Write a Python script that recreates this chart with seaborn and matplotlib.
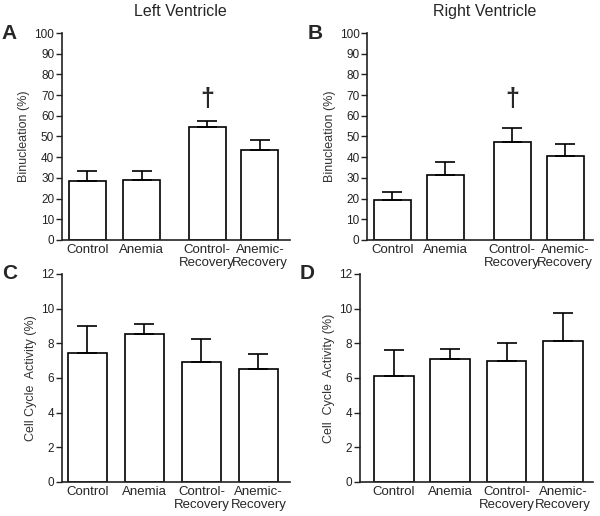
import pandas as pd
import matplotlib
matplotlib.use('Agg')
import matplotlib.pyplot as plt
import seaborn as sns

# dados ---------------------------------------------------------------------------------------------------------
groups = ['Control', 'Anemia', 'Control-\nRecovery', 'Anemic-\nRecovery']

lv_binuc = [28.3, 28.9, 54.7, 43.4]
lv_binuc_err = [5.1, 4.3, 2.6, 4.8]
rv_binuc = [19.2, 31.3, 47.4, 40.5]
rv_binuc_err = [4.0, 6.3, 6.6, 6.0]

lv_cycle = [7.42, 8.54, 6.90, 6.52]
lv_cycle_err = [1.60, 0.59, 1.35, 0.85]
rv_cycle = [6.10, 7.08, 7.00, 8.12]
rv_cycle_err = [1.52, 0.57, 1.00, 1.63]

pos_top = [0, 1, 2.2, 3.17]
pos_bottom = [0, 1, 2, 3]

sns.set_style('ticks')
plt.rcParams['font.family'] = ['Liberation Sans', 'DejaVu Sans']

fig = plt.figure(figsize=(6, 5.16), dpi=100)

# [left, bottom, width, height] em fracao da figura
panels = [
    dict(rect=[0.103, 0.535, 0.38, 0.401], pos=pos_top, y=lv_binuc, err=lv_binuc_err,
         ylim=100, step=10, ylabel='Binucleation (%)', letter='A', xlim=(-0.47, 3.72), dagger=True,
         title='Left Ventricle'),
    dict(rect=[0.612, 0.535, 0.377, 0.401], pos=[0, 1, 2.26, 3.26], y=rv_binuc, err=rv_binuc_err,
         ylim=100, step=10, ylabel='Binucleation (%)', letter='B', xlim=(-0.47, 3.79), dagger=True,
         title='Right Ventricle'),
    dict(rect=[0.103, 0.066, 0.38, 0.403], pos=pos_bottom, y=lv_cycle, err=lv_cycle_err,
         ylim=12, step=2, ylabel='Cell Cycle  Activity (%)', letter='C', xlim=(-0.45, 3.55), dagger=False,
         title=None),
    dict(rect=[0.600, 0.066, 0.388, 0.403], pos=pos_bottom, y=rv_cycle, err=rv_cycle_err,
         ylim=12, step=2, ylabel='Cell  Cycle  Activity (%)', letter='D', xlim=(-0.6, 3.53), dagger=False,
         title=None),
]

for p in panels:
    ax = fig.add_axes(p['rect'])
    df = pd.DataFrame({'pos': p['pos'], 'val': p['y']})
    sns.barplot(data=df, x='pos', y='val', native_scale=True, width=0.7,
                color='white', edgecolor='black', linewidth=1.2, saturation=1,
                errorbar=None, ax=ax)
    ax.errorbar(p['pos'], p['y'], yerr=[[0] * 4, p['err']], fmt='none',
                ecolor='black', elinewidth=1.2, capsize=7.5, capthick=1.2, zorder=1)
    ax.set_xlim(*p['xlim'])
    ax.set_ylim(0, p['ylim'])
    ax.set_yticks(range(0, p['ylim'] + 1, p['step']))
    ax.set_xticks(p['pos'])
    ax.set_xticklabels(groups, fontsize=9.5, linespacing=1.1)
    ax.tick_params(axis='x', length=0, pad=3)
    ax.tick_params(axis='y', length=4, width=1, labelsize=8.5, pad=1.5, colors='#222222')
    ax.set_xlabel('')
    ax.set_ylabel(p['ylabel'], fontsize=9, color='#333333', labelpad=3)
    sns.despine(ax=ax)
    for s in ['left', 'bottom']:
        ax.spines[s].set_linewidth(1.2)
        ax.spines[s].set_color('#222222')
    if p['dagger']:
        ax.text(p['pos'][2], 62.5, '\u2020', ha='center', va='bottom',
                fontsize=18, fontweight='bold')
    l, b, w, h = p['rect']
    fig.text(l - 0.1, b + h, p['letter'], fontsize=15, fontweight='bold', ha='left', va='center')
    if p['title']:
        fig.text(l + w * 0.52, 0.977, p['title'], fontsize=11.5, ha='center', va='center')

plt.savefig('out.png', dpi=100)
